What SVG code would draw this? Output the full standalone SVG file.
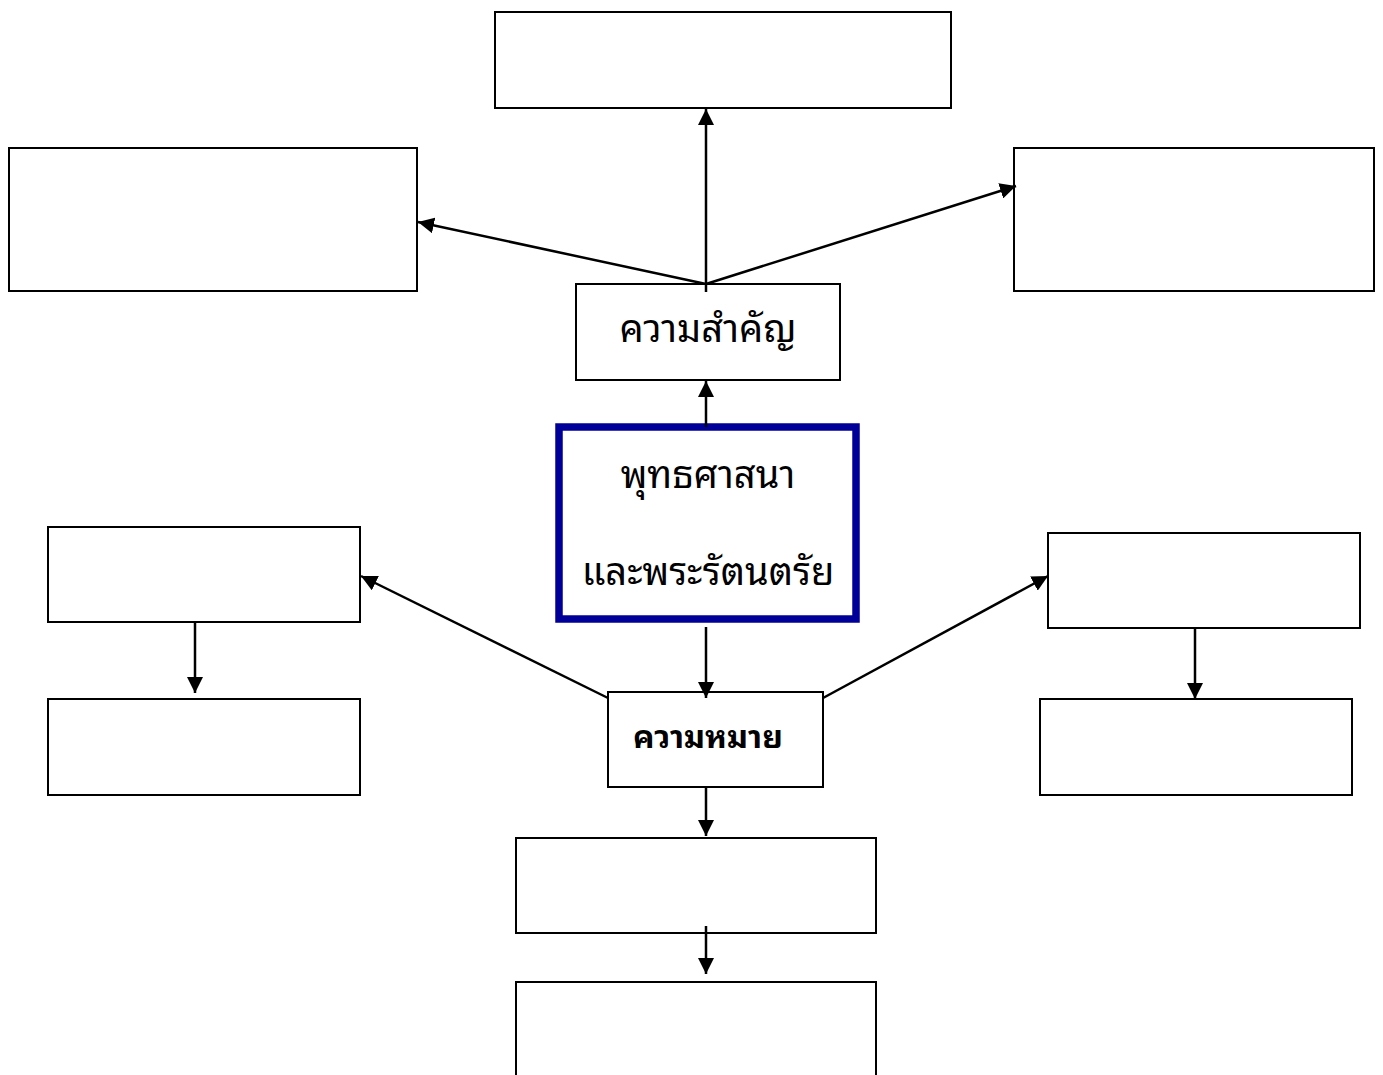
<svg xmlns="http://www.w3.org/2000/svg" width="1383" height="1075" viewBox="0 0 1383 1075">
<style>
.box{fill:#fff;stroke:#000;stroke-width:2}
.main{fill:#fff;stroke:#000099;stroke-width:7.5}
.conn line{stroke:#000;stroke-width:2.5}
.t{font-family:"Noto Sans Thai Looped","Noto Sans Thai","Noto Sans","DejaVu Sans",sans-serif;font-size:38px;fill:#000;text-anchor:middle}
.b{font-weight:bold;font-size:32px}
</style>
<defs>
<marker id="ah" viewBox="0 0 10 10" refX="10" refY="5" markerWidth="16" markerHeight="16" markerUnits="userSpaceOnUse" orient="auto">
<path d="M0,0 L10,5 L0,10 z" fill="#000"/>
</marker>
</defs>
<rect width="1383" height="1075" fill="#fff"/>
<g id="n-top"><rect class="box" x="495" y="12" width="456" height="96"/></g>
<g id="n-upleft"><rect class="box" x="9" y="148" width="408" height="143"/></g>
<g id="n-upright"><rect class="box" x="1014" y="148" width="360" height="143"/></g>
<g id="n-importance"><rect class="box" x="576" y="284" width="264" height="96"/><text class="t" x="708" y="342">ความสำคัญ</text></g>
<g id="n-main"><rect class="main" x="559" y="427" width="297" height="192"/><text class="t" x="708" y="488">พุทธศาสนา</text><text class="t" x="708" y="585">และพระรัตนตรัย</text></g>
<g id="n-midleft"><rect class="box" x="48" y="527" width="312" height="95"/></g>
<g id="n-lowleft"><rect class="box" x="48" y="699" width="312" height="96"/></g>
<g id="n-midright"><rect class="box" x="1048" y="533" width="312" height="95"/></g>
<g id="n-lowright"><rect class="box" x="1040" y="699" width="312" height="96"/></g>
<g id="n-meaning"><rect class="box" x="608" y="692" width="215" height="95"/><text class="t b" x="708" y="748">ความหมาย</text></g>
<g id="n-bot1"><rect class="box" x="516" y="838" width="360" height="95"/></g>
<g id="n-bot2"><rect class="box" x="516" y="982" width="360" height="100"/></g>
<g id="connectors" class="conn">
<line x1="706" y1="292" x2="706" y2="109" marker-end="url(#ah)"/>
<line x1="706" y1="284" x2="418" y2="222" marker-end="url(#ah)"/>
<line x1="706" y1="284" x2="1016" y2="186" marker-end="url(#ah)"/>
<line x1="706" y1="427" x2="706" y2="381" marker-end="url(#ah)"/>
<line x1="706" y1="627" x2="706" y2="698" marker-end="url(#ah)"/>
<line x1="608" y1="698" x2="361" y2="576" marker-end="url(#ah)"/>
<line x1="823" y1="698" x2="1048" y2="576" marker-end="url(#ah)"/>
<line x1="195" y1="622" x2="195" y2="693" marker-end="url(#ah)"/>
<line x1="1195" y1="628" x2="1195" y2="699" marker-end="url(#ah)"/>
<line x1="706" y1="787" x2="706" y2="836" marker-end="url(#ah)"/>
<line x1="706" y1="926" x2="706" y2="974" marker-end="url(#ah)"/>
</g>
</svg>
